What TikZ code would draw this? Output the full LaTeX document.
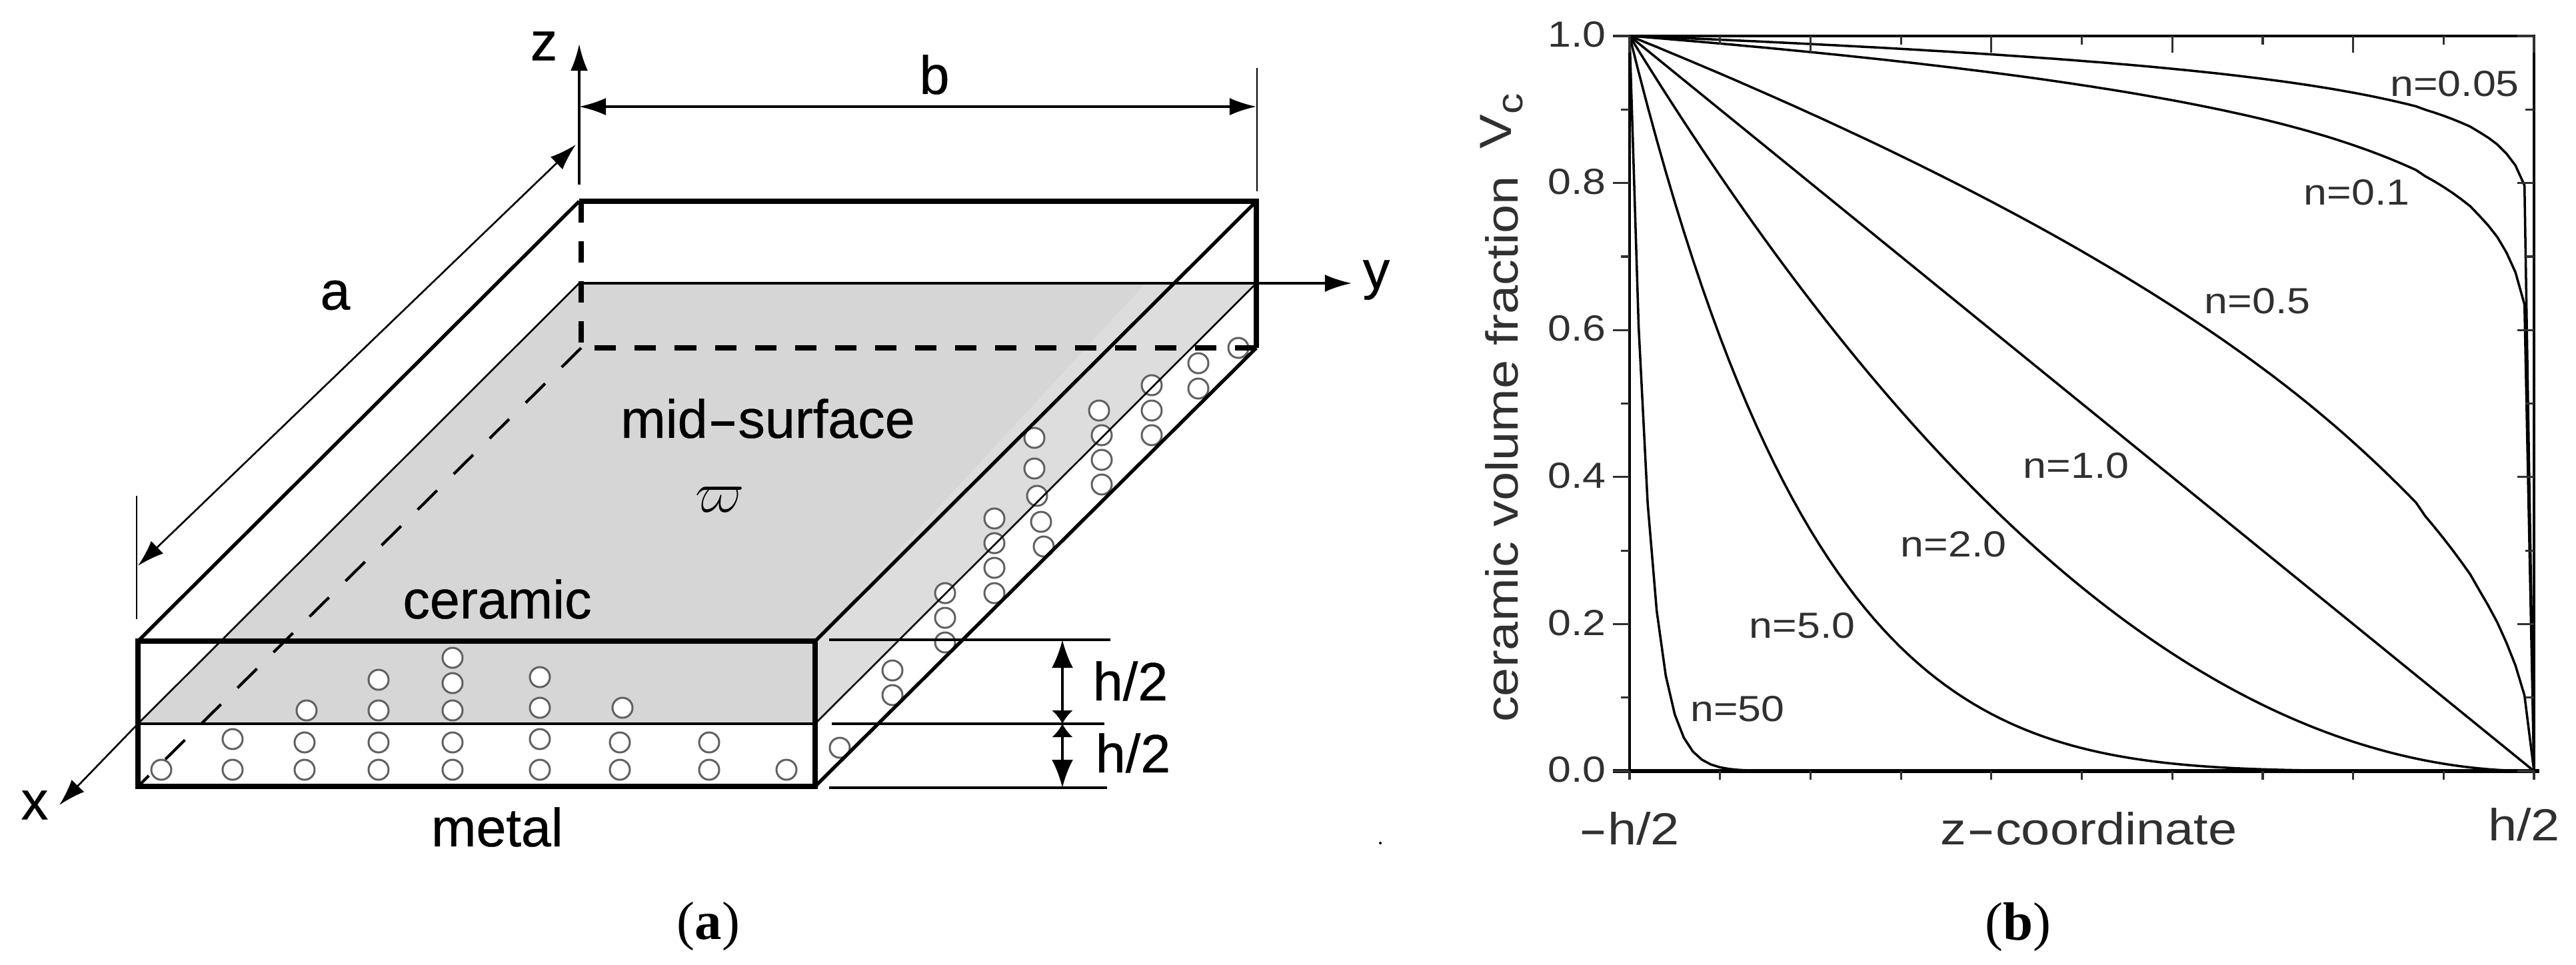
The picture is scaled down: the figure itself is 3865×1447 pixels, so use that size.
\documentclass[tikz,border=0pt]{standalone}
\usepackage{graphicx}
\usepackage{fontspec}
\setmainfont{Liberation Sans}
\newfontfamily\platefont[FakeBold=0.5]{Liberation Sans}
\newfontfamily\plotfont[FakeStretch=1.15]{Liberation Sans}
\newfontfamily\captionfont{Liberation Serif}
\usetikzlibrary{arrows.meta}

\definecolor{midgray}{HTML}{D6D6D6}
\definecolor{sidegray}{HTML}{DDDDDD}
\definecolor{poregray}{HTML}{606060}
\definecolor{plotink}{HTML}{303030}
\newcommand{\widedash}{\scalebox{1.7}[1]{-}}

\tikzstyle{platelabel} = [inner sep=0pt, font=\platefont\fontsize{23}{23}\selectfont]
\tikzstyle{ticklabel} = [inner sep=0pt, text=plotink, font=\plotfont\fontsize{15.5}{16}\selectfont]
\tikzstyle{axislabel} = [inner sep=0pt, text=plotink, font=\plotfont\fontsize{19.2}{20}\selectfont]
\tikzstyle{sublabel} = [inner sep=0pt, font=\captionfont\fontsize{23}{23}\selectfont]
\tikzstyle{thickedge} = [draw, line width=2.4pt, line join=miter]
\tikzstyle{slantedge} = [draw, line width=1.5pt]
\tikzstyle{thinedge} = [draw, line width=0.75pt]
\tikzstyle{dimline} = [draw, line width=1pt]
\tikzstyle{dimarrow} = [draw, line width=0.9pt, {Latex[length=0.4cm, width=0.26cm]}-{Latex[length=0.4cm, width=0.26cm]}]
\tikzstyle{axisarrow} = [draw, line width=1pt, -{Latex[length=0.4cm, width=0.26cm]}]
\tikzstyle{pore} = [draw=poregray, fill=white, line width=0.85pt]
\tikzstyle{curve} = [draw=black, line width=1pt, line join=round]
\tikzstyle{tick} = [draw=plotink, line width=0.9pt]

\begin{document}
\begin{tikzpicture}[x=0.01cm, y=-0.01cm]
  \useasboundingbox (0,0) rectangle (3865,1447);

  \coordinate (rearTL) at (869,302);
  \coordinate (rearTR) at (1885,302);
  \coordinate (frontTL) at (207,962);
  \coordinate (frontTR) at (1223,962);
  \coordinate (frontML) at (207,1086);
  \coordinate (frontMR) at (1223,1086);
  \coordinate (frontBL) at (207,1180);
  \coordinate (frontBR) at (1223,1180);
  \coordinate (rearML) at (869,425);
  \coordinate (rearMR) at (1885,425);
  \coordinate (rearBL) at (872,522);
  \coordinate (rearBR) at (1885,522);
  \coordinate (sideCut) at (1719,425);

  \fill [midgray] (rearML) -- (rearMR) -- (frontMR) -- (frontML) -- cycle;
  \fill [sidegray] (sideCut) -- (rearMR) -- (frontMR) -- (frontTR) -- cycle;

  \foreach \px/\py in {242/1155,349/1155,457/1155,568/1155,679/1155,810/1155,930/1155,1064/1155,1180/1155,
    349/1109,457/1114,568/1114,679/1114,810/1109,930/1114,1064/1114,
    460/1066,568/1066,679/1066,810/1062,934/1062,
    568/1020,679/1025,810/1016,679/987,
    1260/1122,1339/1006,1339/1043,1418/890,1418/927,1418/964,
    1492/778,1492/815,1492/852,1492/890,1562/783,1566/820,
    1858/522,1798/545,1798/583,1728/578,1728/616,1728/653,
    1649/616,1653/653,1653/690,1653/727,1552/657,1552/703,1556/744}
    \draw [pore] (\px,\py) circle [radius=0.15cm];

  % hidden edges
  \draw [draw, line width=2.3pt, dash pattern=on 0.32cm off 0.28cm] (872,302) -- (rearBL);
  \draw [draw, line width=2.5pt, dash pattern=on 0.32cm off 0.28cm] (rearBR) -- (rearBL);
  \draw [draw, line width=1.2pt, dash pattern=on 0.41cm off 0.35cm] (rearBL) -- (frontBL);

  \coordinate (xTip) at (89,1208);
  \coordinate (yTip) at (2028,425);
  \coordinate (zTip) at (869,66);
  \coordinate (zFoot) at (869,277);
  \draw [thinedge] (rearML) -- (frontML);
  \draw [axisarrow, line width=0.75pt] (frontML) -- (xTip);
  \draw [axisarrow] (rearML) -- (yTip);
  \draw [axisarrow] (zFoot) -- (zTip);
  \draw [thinedge] (rearMR) -- (frontMR);

  \draw [slantedge] (frontTL) -- (rearTL);
  \draw [slantedge] (frontTR) -- (rearTR);
  \draw [slantedge] (rearBR) -- (frontBR);
  \draw [thickedge] (rearTL) -- (rearTR) -- (rearBR);
  \draw [thickedge] (frontTL) rectangle (frontBR);
  \draw [dimline, line width=1.3pt] (frontML) -- (frontMR);

  \coordinate (aStart) at (864,217);
  \coordinate (aEnd) at (207,849);
  \coordinate (aExtTop) at (205,744);
  \coordinate (aExtBot) at (205,929);
  \coordinate (bStart) at (869,160);
  \coordinate (bEnd) at (1885,160);
  \coordinate (bExtTop) at (1886,102);
  \coordinate (bExtBot) at (1886,287);
  \draw [dimarrow, line width=0.75pt] (aEnd) -- (aStart);
  \draw [dimarrow] (bStart) -- (bEnd);
  \draw [dimline, line width=0.8pt] (aExtTop) -- (aExtBot);
  \draw [dimline, line width=0.8pt] (bExtTop) -- (bExtBot);

  \coordinate (hTop) at (1594,960);
  \coordinate (hMid) at (1594,1086);
  \coordinate (hBot) at (1594,1182);
  \draw [dimline] (1244,960) -- (1666,960);
  \draw [dimline] (1248,1086) -- (1657,1086);
  \draw [dimline] (1244,1182) -- (1661,1182);
  \draw [draw, line width=1pt, {Latex[length=0.42cm, width=0.32cm]}-{Latex[length=0.2cm, width=0.32cm]}] (hTop) -- (hMid);
  \draw [draw, line width=1pt, {Latex[length=0.2cm, width=0.32cm]}-{Latex[length=0.42cm, width=0.32cm]}] (hMid) -- (hBot);

  \node [platelabel] (zlabel) at (816,69) {z};
  \node [platelabel] (ylabel) at (2065,420) {y};
  \node [platelabel] (xlabel) at (52,1208) {x};
  \node [platelabel] (alabel) at (503,443) {a};
  \node [platelabel] (blabel) at (1402,112) {b};
  \node [platelabel] (midsurface) at (1152,628) {mid\widedash surface};
  \node [platelabel] (varpilabel) at (1080,750) {$\varpi$};
  \node [platelabel] (ceramic) at (746,899) {ceramic};
  \node [platelabel] (metal) at (746,1241) {metal};
  \node [platelabel] (hupper) at (1696,1022) {h/2};
  \node [platelabel] (hlower) at (1700,1130) {h/2};
  \node [sublabel] (suba) at (1063,1390) {(\textbf{a})};
  \fill (2071,1265) circle [radius=0.02cm];

  \coordinate (plotTL) at (2445,54);
  \coordinate (plotTR) at (3802,54);
  \coordinate (plotBL) at (2445,1157);
  \coordinate (plotBR) at (3802,1157);
  \foreach \n in {0.05,0.1,0.5,1,2,5,50}
    \draw [curve] plot [domain=0:0.99, samples=100] ({2445+1357*\x},{1157-1103*(1-\x)^\n}) -- (plotBR);

  \draw [tick, draw=black, line width=1.3pt] (plotBL) -- (plotTL) -- (plotTR) -- (plotBR);
  \draw [tick, draw=black, line width=1.5pt] (2420,1157) -- (3810,1157);
  \foreach \i in {0,2,...,10} {
    \draw [tick] (2445,{1157-110.3*\i}) -- ++(-25,0);
    \draw [tick] (3802,{1157-110.3*\i}) -- ++(-25,0);
    \draw [tick] ({2445+135.7*\i},54) -- ++(0,25);
  }
  \foreach \i in {1,3,...,9} {
    \draw [tick] (2445,{1157-110.3*\i}) -- ++(-13,0);
    \draw [tick] (3802,{1157-110.3*\i}) -- ++(-13,0);
    \draw [tick] ({2445+135.7*\i},54) -- ++(0,13);
  }
  \foreach \i in {0,...,10}
    \draw [tick] ({2445+135.7*\i},1157) -- ++(0,13);

  \foreach \v/\i in {0.0/0,0.2/2,0.4/4,0.6/6,0.8/8,1.0/10}
    \node [ticklabel, anchor=east] (tick\i) at (2410,{1155-110.3*\i}) {\v};

  \node [ticklabel] (n005) at (3683,126) {n=0.05};
  \node [ticklabel] (n01) at (3536,289) {n=0.1};
  \node [ticklabel] (n05) at (3387,452) {n=0.5};
  \node [ticklabel] (n10) at (3115,699) {n=1.0};
  \node [ticklabel] (n20) at (2931,817) {n=2.0};
  \node [ticklabel] (n50) at (2704,939) {n=5.0};
  \node [ticklabel] (n500) at (2607,1064) {n=50};

  \node [axislabel, rotate=90] (fraction) at (2253,674) {ceramic volume fraction};
  \node [axislabel, rotate=90] (vc) at (2253,182) {V{\fontsize{15.5}{16}\selectfont\raisebox{-0.6ex}{c}}};
  \node [axislabel] (zcoord) at (3134,1243) {z\widedash coordinate};
  \node [axislabel] (hleft) at (2444,1243) {\widedash h/2};
  \node [axislabel] (hright) at (3787,1237) {h/2};
  \node [sublabel] (subb) at (3028,1391) {(\textbf{b})};
\end{tikzpicture}
\end{document}
